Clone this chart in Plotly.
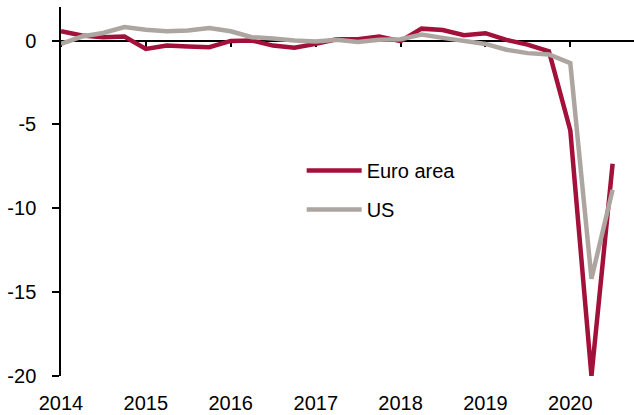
import pandas as pd
import plotly.graph_objects as go

# Quarterly observations, 2014Q1 to 2020Q3
quarters = pd.period_range("2014Q1", "2020Q3", freq="Q").to_timestamp()

euro_area = [0.55, 0.30, 0.20, 0.24,
             -0.50, -0.30, -0.35, -0.40,
             -0.02, 0.00, -0.30, -0.43,
             -0.20, 0.08, 0.08, 0.24,
             -0.04, 0.71, 0.63, 0.32,
             0.44, 0.04, -0.24, -0.64,
             -5.36, -20.0, -7.34]

us = [-0.20, 0.24, 0.45, 0.80,
      0.64, 0.55, 0.60, 0.75,
      0.55, 0.20, 0.12, 0.00,
      -0.05, 0.05, -0.08, 0.04,
      0.08, 0.36, 0.16, -0.04,
      -0.20, -0.55, -0.75, -0.83,
      -1.35, -14.2, -8.90]

year_ticks = ["2014-01-01", "2015-01-01", "2016-01-01", "2017-01-01",
              "2018-01-01", "2019-01-01", "2020-01-01"]
year_labels = ["2014", "2015", "2016", "2017", "2018", "2019", "2020"]

y_ticks = [0, -5, -10, -15, -20]
y_labels = ["0", "-5", "-10", "-15", "-20"]

RED = "#A3103A"
GREY = "#ADA59F"
FONT = dict(family="Liberation Sans, Arial, sans-serif", size=20, color="#000000")

x_range = ["2014-01-01", "2020-10-01"]
y_range = [-20, 2]

fig = go.Figure()
fig.add_trace(go.Scatter(x=quarters, y=euro_area, name="Euro area", mode="lines",
                         line=dict(color=RED, width=4.5), legendgroup="ea"))
fig.add_trace(go.Scatter(x=quarters, y=us, name="US", mode="lines",
                         line=dict(color=GREY, width=4.5), legendgroup="us"))

fig.update_layout(
    width=634, height=415,
    margin=dict(l=61, r=0, t=7, b=39),
    paper_bgcolor="white", plot_bgcolor="white",
    font=FONT,
    showlegend=True,
    legend=dict(x=0.42, y=0.61, xanchor="left", yanchor="top",
                bgcolor="rgba(0,0,0,0)", itemwidth=55,
                traceorder="grouped", tracegroupgap=10,
                font=FONT),
    # x axis line sits at y = 0; year labels are pushed down to the bottom edge
    xaxis=dict(type="date", range=x_range, anchor="free",
               position=(0 - y_range[0]) / (y_range[1] - y_range[0]),
               showgrid=False, zeroline=False, showline=True,
               linecolor="black", linewidth=1.5, ticks="outside", ticklen=6,
               tickwidth=1.5, tickcolor="black",
               tickvals=year_ticks, ticktext=year_labels,
               ticklabelstandoff=339, tickfont=FONT, layer="below traces"),
    yaxis=dict(range=y_range, showgrid=False, zeroline=False, showline=True,
               linecolor="black", linewidth=1.5, ticks="outside", ticklen=7,
               tickwidth=1.5, tickcolor="black", tickvals=y_ticks, ticktext=y_labels,
               ticklabelstandoff=12, tickfont=FONT),
)

fig.write_html("out.html")
